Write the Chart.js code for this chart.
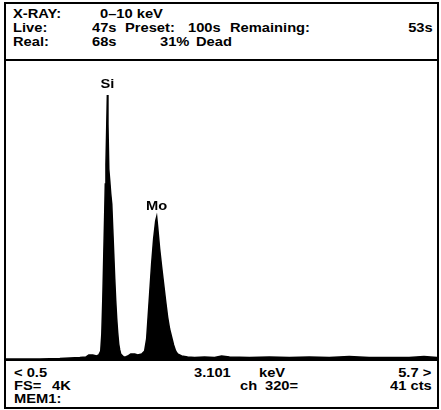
<!DOCTYPE html>
<html>
<head>
<meta charset="utf-8">
<script src="https://cdn.jsdelivr.net/npm/chart.js@4/dist/chart.umd.min.js"></script>
<style>
  body { margin: 0; background: #fff; width: 441px; height: 410px; overflow: hidden; }
  #frame { position: absolute; left: 4px; top: 2px; width: 431px; height: 403px; border: 2px solid #000; }
  .sep { position: absolute; left: 4px; width: 435px; height: 2px; background: #000; }
  #spectrum { position: absolute; left: 6px; top: 61px; }
  .t { position: absolute; font-family: "Liberation Sans", Arial, sans-serif; font-size: 13px; font-weight: bold;
       line-height: 14px; color: #000; white-space: pre; transform: scaleX(1.13); transform-origin: left center; }
  .t.r { transform-origin: right center; }
</style>
</head>
<body>
<div id="frame"></div>
<div class="sep" style="top:59px"></div>
<div class="sep" style="top:359px"></div>
<canvas id="spectrum" width="431" height="298"></canvas>
<div id="texts"></div>
<script>
// spectrum: energy (keV) and counts
const energyKeV = [
  0.500, 0.909, 1.150, 1.270, 1.391, 1.463, 1.499, 1.547, 1.595, 1.619,
  1.643, 1.656, 1.668, 1.680, 1.692, 1.698, 1.706, 1.716, 1.723, 1.730,
  1.740, 1.752, 1.764, 1.776, 1.788, 1.800, 1.812, 1.824, 1.836, 1.848,
  1.860, 1.872, 1.884, 1.896, 1.920, 1.944, 1.969, 2.005, 2.053, 2.089,
  2.137, 2.173, 2.197, 2.209, 2.233, 2.257, 2.281, 2.306, 2.318, 2.330,
  2.354, 2.378, 2.402, 2.426, 2.450, 2.474, 2.498, 2.522, 2.546, 2.570,
  2.619, 2.691, 2.775, 2.895, 3.016, 3.101, 3.196, 3.437, 3.678, 3.919,
  4.159, 4.400, 4.641, 4.881, 5.122, 5.363, 5.543, 5.700
];
const counts = [
  0, 0, 7, 14, 21, 27, 55, 55, 41, 55,
  110, 344, 825, 1443, 2062, 2405, 2680, 3230, 3629, 3230,
  2612, 2447, 2268, 2130, 1787, 1443, 1100, 797, 550, 357,
  206, 124, 69, 55, 27, 27, 41, 69, 69, 55,
  69, 110, 275, 481, 893, 1306, 1649, 1897, 1952, 1814,
  1512, 1265, 1031, 797, 577, 412, 302, 192, 110, 69,
  41, 27, 21, 27, 21, 41, 27, 21, 27, 21,
  27, 21, 34, 21, 21, 21, 34, 21
];
const peakLabels = ["Si", "Mo"];
const peakEnergies = [1.723, 2.318];
const peakCounts = [3629, 1952];
const rangeKeV = [0.5, 5.7];
const fullScale = 4096;

// display text: [text, x, centre y, align]
const headerText = [
  ["X-RAY:", 13, 13], ["0\u201310 keV", 100, 13],
  ["Live:", 13, 27], ["47s", 92, 27], ["Preset:", 125, 27], ["100s", 188, 27], ["Remaining:", 230, 27], ["53s", 433, 27, "r"],
  ["Real:", 13, 41], ["68s", 92, 41], ["31%", 160, 41], ["Dead", 196, 41]
];
const footerText = [
  ["< 0.5", 14, 372], ["3.101", 194, 372], ["keV", 259, 372], ["5.7 >", 431, 372, "r"],
  ["FS=", 14, 385], ["4K", 52, 385], ["ch", 240, 385], ["320=", 265, 385], ["41", 406, 385, "r"], ["cts", 432, 385, "r"],
  ["MEM1:", 14, 398]
];

const box = document.getElementById("texts");
headerText.concat(footerText).forEach(([s, x, y, align]) => {
  const el = document.createElement("div");
  el.className = align === "r" ? "t r" : "t";
  el.textContent = s;
  if (align === "r") el.style.right = (441 - x) + "px";
  else el.style.left = x + "px";
  el.style.top = (y - 6) + "px";
  box.appendChild(el);
});

const peakLabelPlugin = {
  id: "peakLabels",
  afterDatasetsDraw(chart) {
    const ctx = chart.ctx;
    const xs = chart.scales.x, ys = chart.scales.y;
    ctx.save();
    ctx.fillStyle = "#000";
    ctx.font = "bold 13px 'Liberation Sans', Arial, sans-serif";
    ctx.textAlign = "center";
    ctx.textBaseline = "alphabetic";
    peakLabels.forEach((lab, i) => {
      const px = xs.getPixelForValue(peakEnergies[i]);
      const py = ys.getPixelForValue(peakCounts[i]) - 7;
      ctx.save();
      ctx.translate(px, py);
      ctx.scale(1.13, 1);
      ctx.fillText(lab, 0, 0);
      ctx.restore();
    });
    ctx.restore();
  }
};

new Chart(document.getElementById("spectrum"), {
  type: "line",
  data: {
    datasets: [{
      data: energyKeV.map((e, i) => ({ x: e, y: counts[i] })),
      borderColor: "#000",
      backgroundColor: "#000",
      borderWidth: 1.5,
      fill: "origin",
      pointRadius: 0,
      tension: 0
    }]
  },
  options: {
    responsive: false,
    animation: false,
    devicePixelRatio: 1,
    layout: { padding: 0 },
    plugins: { legend: { display: false }, tooltip: { enabled: false } },
    scales: {
      x: { type: "linear", min: rangeKeV[0], max: rangeKeV[1], display: false },
      y: { min: 0, max: fullScale, display: false }
    }
  },
  plugins: [peakLabelPlugin]
});
</script>
</body>
</html>
